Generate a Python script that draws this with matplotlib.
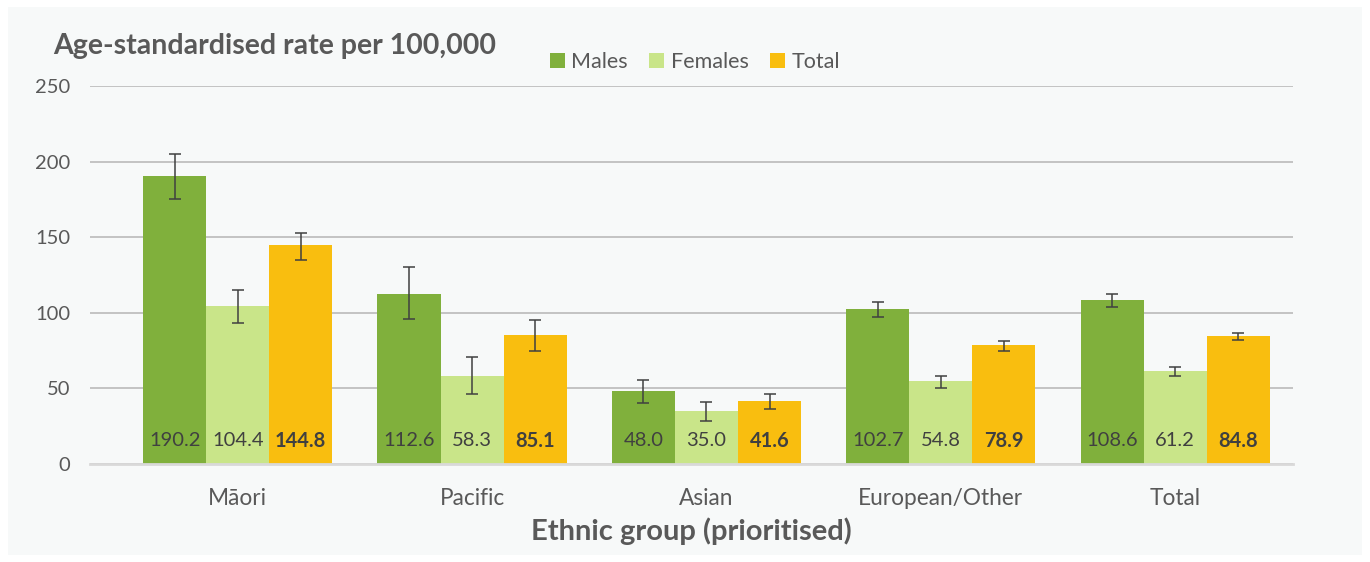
import matplotlib
matplotlib.use("Agg")
import matplotlib.pyplot as plt
from matplotlib.patches import Rectangle
import numpy as np

plt.rcParams['font.family'] = ['Lato', 'DejaVu Sans']

categories = ["Māori", "Pacific", "Asian", "European/Other", "Total"]
series = ["Males", "Females", "Total"]
males = [190.2, 112.6, 48.0, 102.7, 108.6]
females = [104.4, 58.3, 35.0, 54.8, 61.2]
total = [144.8, 85.1, 41.6, 78.9, 84.8]
males_lo = [175.0, 96.0, 40.1, 97.0, 103.8]
males_hi = [205.0, 130.3, 55.6, 107.4, 112.4]
females_lo = [93.5, 46.1, 28.2, 50.3, 58.0]
females_hi = [114.9, 70.8, 41.0, 58.0, 64.0]
total_lo = [135.0, 75.0, 36.4, 75.0, 81.8]
total_hi = [153.0, 95.2, 46.1, 81.6, 86.8]
yticks = [0, 50, 100, 150, 200, 250]

colors = ["#80b03c", "#c9e589", "#f9be0f"]
txt = "#595959"

fig = plt.figure(figsize=(13.7, 5.62), dpi=100)
fig.patch.set_facecolor("white")
fig.patches.append(Rectangle((8/1370, 7/562), 1354/1370, 548/562, transform=fig.transFigure,
                             facecolor="#f7f9f9", edgecolor="none", zorder=-10))
ax = fig.add_axes([90/1370, (562-464)/562, (1292.5-90)/1370, (464-86)/562])
ax.set_facecolor("none")

x = np.arange(len(categories))
w = 0.269
data = [males, females, total]
los = [males_lo, females_lo, total_lo]
his = [males_hi, females_hi, total_hi]
for i, (vals, lo, hi) in enumerate(zip(data, los, his)):
    pos = x + (i - 1) * w
    vals = np.array(vals)
    yerr = np.vstack([vals - np.array(lo), np.array(hi) - vals])
    ax.bar(pos, vals, width=w, color=colors[i], label=series[i], zorder=2)
    ax.errorbar(pos, vals, yerr=yerr, fmt="none", ecolor="#404040", elinewidth=1.1,
                capsize=4.5, capthick=1.1, zorder=3)
    for p, v in zip(pos, vals):
        ax.text(p, 15.5, f"{v:.1f}", ha="center", va="center", fontsize=14.5,
                color="#404040", fontweight="bold" if i == 2 else "normal", zorder=4)

ax.set_ylim(0, 250)
ax.set_xlim(-0.63, 4.5)
ax.set_yticks(yticks)
ax.set_yticklabels([str(t) for t in yticks], fontsize=14.5, color=txt)
ax.set_xticks(x)
ax.set_xticklabels(categories, fontsize=16.3, color=txt)
ax.tick_params(axis="both", length=0)
ax.tick_params(axis="y", pad=14)
ax.tick_params(axis="x", pad=17)
ax.grid(axis="y", color="#b5b5b5", linewidth=1.1, zorder=0)
ax.set_axisbelow(True)
for s in ["top", "right", "left"]:
    ax.spines[s].set_visible(False)
ax.spines["bottom"].set_color("#d9d9d9")
ax.spines["bottom"].set_linewidth(2)
ax.spines["bottom"].set_zorder(5)

ax.set_xlabel("Ethnic group (prioritised)", fontsize=21, fontweight="bold", color=txt, labelpad=6)
fig.text(53/1370, 1 - 46/562, "Age-standardised rate per 100,000", fontsize=20.5, fontweight="bold",
         color=txt, ha="left", va="center")

leg = ax.legend(loc="center", bbox_to_anchor=(695/1370, 1 - 62/562), bbox_transform=fig.transFigure,
                ncol=3, frameon=False, fontsize=15.5, handlelength=0.7, handleheight=0.7,
                handletextpad=0.3, columnspacing=1.0)
for t in leg.get_texts():
    t.set_color(txt)

fig.savefig("out.png", dpi=100, facecolor=fig.get_facecolor())
